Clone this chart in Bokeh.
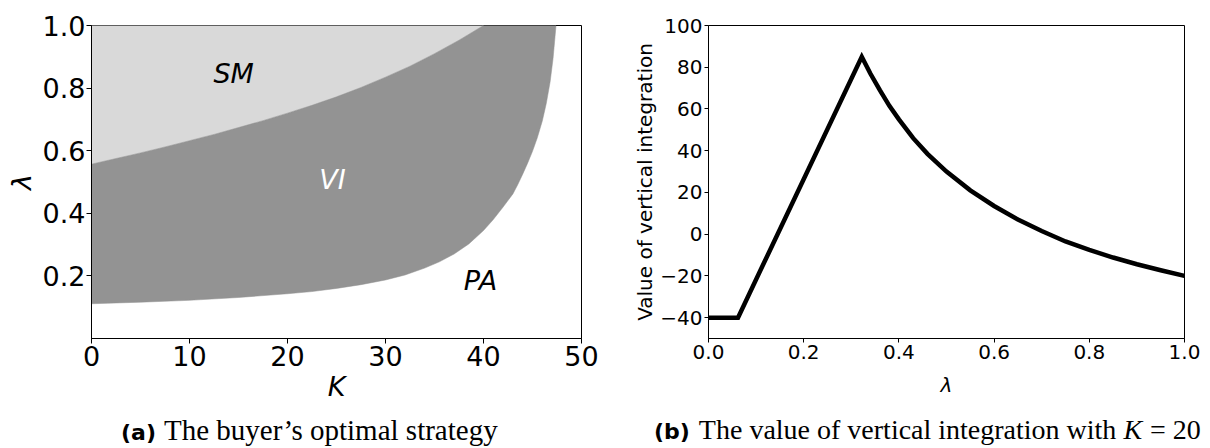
from bokeh.plotting import figure
from bokeh.layouts import row, column
from bokeh.models import Range1d, FixedTicker, PrintfTickFormatter, Div
from bokeh.core.properties import value
from bokeh.embed import file_html
from bokeh.resources import INLINE

# ---- Panel (a): buyer's optimal strategy regions ----
K_sm = [0, 2.5, 5, 7.5, 10, 12.5, 15, 17.5, 20, 22.5, 25, 27.5, 30, 32.5, 35, 37.5, 40]
lam_sm = [0.557, 0.575, 0.593, 0.612, 0.632, 0.652, 0.674, 0.696, 0.720, 0.745, 0.772, 0.802,
          0.835, 0.870, 0.910, 0.953, 1.0]
K_pa = [0, 5, 10, 15, 20, 22.5, 25, 27.5, 30, 32, 34, 35.5, 37, 38.5, 40, 41, 42, 43, 43.5, 44,
        44.5, 45, 45.5, 46, 46.4, 46.8, 47.1, 47.4]
lam_pa = [0.111, 0.116, 0.122, 0.131, 0.143, 0.150, 0.160, 0.172, 0.187, 0.203, 0.225, 0.245,
          0.270, 0.302, 0.345, 0.380, 0.420, 0.462, 0.492, 0.525, 0.560, 0.598, 0.642, 0.695,
          0.750, 0.820, 0.895, 1.0]
region_names = ["SM", "VI", "PA"]
region_K = [14.5, 24.6, 39.7]
region_lam = [0.846, 0.508, 0.185]
region_colors = ["black", "white", "black"]
a_xticks = [0, 10, 20, 30, 40, 50]
a_yticks = [0.2, 0.4, 0.6, 0.8, 1.0]

# ---- Panel (b): value of vertical integration, K = 20 ----
lam_b = [0.0, 0.062, 0.322, 0.34, 0.36, 0.38, 0.40, 0.43, 0.46, 0.50, 0.55, 0.60, 0.65, 0.70,
         0.75, 0.80, 0.85, 0.90, 0.95, 1.0]
val_b = [-40, -40, 85, 77, 69, 61.5, 55, 46, 38.5, 30, 21, 13.5, 7, 1.5,
         -3.5, -7.5, -11.2, -14.4, -17.3, -20]
b_xticks = [0.0, 0.2, 0.4, 0.6, 0.8, 1.0]
b_yticks = [-40, -20, 0, 20, 40, 60, 80, 100]

caption_a_tag = "(a)"
caption_a_text = "The buyer’s optimal strategy"
caption_b_tag = "(b)"
caption_b_text = "The value of vertical integration with"
caption_b_var = "K"
caption_b_val = "= 20"

LIGHT = "#d9d9d9"
DARK = "#939393"


def style_axes(p, tick_size, label_size):
    for ax in (p.xaxis[0], p.yaxis[0]):
        ax.axis_line_color = "black"
        ax.axis_line_width = 1
        ax.major_tick_line_color = "black"
        ax.major_tick_in = 0
        ax.major_tick_out = 5
        ax.minor_tick_line_color = None
        ax.major_label_text_font = "DejaVu Sans"
        ax.major_label_text_font_size = tick_size
        ax.major_label_text_color = "black"
        ax.axis_label_text_font = "DejaVu Sans"
        ax.axis_label_text_font_size = label_size
        ax.axis_label_text_color = "black"
    p.grid.visible = False
    p.outline_line_color = "black"
    p.outline_line_width = 1
    p.background_fill_color = "white"
    p.border_fill_color = "white"


# ---------- figure (a) ----------
pa = figure(width=620, height=410, output_backend="svg", toolbar_location=None,
            x_range=Range1d(0, 50), y_range=Range1d(0, 1.0),
            min_border_left=91, min_border_right=39, min_border_top=13, min_border_bottom=72)
style_axes(pa, "27px", "27px")
pa.xaxis[0].ticker = FixedTicker(ticks=a_xticks)
pa.yaxis[0].ticker = FixedTicker(ticks=a_yticks)
pa.yaxis[0].formatter = PrintfTickFormatter(format="%.1f")
pa.xaxis[0].axis_label = "K"
pa.xaxis[0].axis_label_text_font_style = "italic"
pa.yaxis[0].axis_label = "λ"
pa.yaxis[0].axis_label_text_font_style = "italic"
pa.xaxis[0].major_label_standoff = 2
pa.xaxis[0].axis_label_standoff = 2
pa.yaxis[0].major_label_standoff = 1
pa.yaxis[0].axis_label_standoff = 3

# light SM region: above SM boundary
pa.patch(x=K_sm + [0], y=lam_sm + [1.0], fill_color=LIGHT, line_color=LIGHT, line_width=0.5)
# dark VI region: between PA boundary and SM boundary
pa.patch(x=K_pa + K_sm[::-1], y=lam_pa + lam_sm[::-1], fill_color=DARK, line_color=DARK, line_width=0.5)

pa.text(x=region_K, y=region_lam, text=region_names, text_color=region_colors,
        text_font=value("DejaVu Sans"), text_font_style="italic", text_font_size="27px",
        text_align="center", text_baseline="middle")

# ---------- figure (b) ----------
pb = figure(width=590, height=410, output_backend="svg", toolbar_location=None,
            x_range=Range1d(0, 1.0), y_range=Range1d(-50, 100),
            min_border_left=88, min_border_right=26, min_border_top=25, min_border_bottom=53)
style_axes(pb, "20px", "20px")
pb.xaxis[0].ticker = FixedTicker(ticks=b_xticks)
pb.xaxis[0].formatter = PrintfTickFormatter(format="%.1f")
pb.yaxis[0].ticker = FixedTicker(ticks=b_yticks)
pb.yaxis[0].major_label_overrides = {-40: "−40", -20: "−20"}
pb.xaxis[0].axis_label = "λ"
pb.xaxis[0].axis_label_text_font_style = "italic"
pb.yaxis[0].axis_label = "Value of vertical integration"
pb.yaxis[0].axis_label_text_font_style = "normal"
pb.xaxis[0].major_tick_out = 4
pb.yaxis[0].major_tick_out = 4
pb.xaxis[0].major_label_standoff = 2
pb.xaxis[0].axis_label_standoff = 11
pb.yaxis[0].major_label_standoff = 2
pb.yaxis[0].axis_label_standoff = 0

pb.line(x=lam_b, y=val_b, line_color="black", line_width=4.5, line_join="miter")

# ---------- captions ----------
SANS_B = "font-family:'DejaVu Sans';font-weight:bold;font-size:22px;"
SERIF_A = "font-family:'Liberation Serif';font-size:29px;"
SERIF = "font-family:'Liberation Serif';font-size:28px;"
SERIF_I = "font-family:'Liberation Serif';font-style:italic;font-size:28px;"
BOX = "height:34px;line-height:30px;white-space:nowrap;box-sizing:border-box;color:black;margin:0;text-align:left;"

da = Div(width=620, height=38, text=(
    f'<div style="width:600px;{BOX}padding-left:116px;">'
    f'<span style="{SANS_B}">{caption_a_tag}</span>'
    f'<span style="{SERIF_A}margin-left:8px;">{caption_a_text}</span></div>'))
db = Div(width=590, height=38, text=(
    f'<div style="width:580px;{BOX}padding-left:19px;">'
    f'<span style="{SANS_B}">{caption_b_tag}</span>'
    f'<span style="{SERIF}margin-left:9px;">{caption_b_text}</span>'
    f'<span style="{SERIF_I}margin-left:7px;">{caption_b_var}</span>'
    f'<span style="{SERIF}margin-left:8px;">{caption_b_val}</span></div>'))

layout = column(row(pa, pb), row(da, db))
open("out.html", "w").write(file_html(layout, INLINE))
